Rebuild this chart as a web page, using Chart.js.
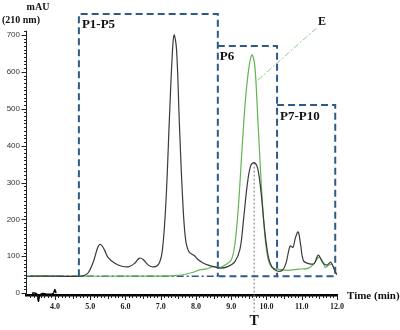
<!DOCTYPE html>
<html>
<head>
<meta charset="utf-8">
<script src="https://cdn.jsdelivr.net/npm/chart.js@4.4.0/dist/chart.umd.min.js"></script>
<style>
  body{margin:0;background:#fff;}
  #wrap{width:400px;height:330px;}
</style>
</head>
<body>
<div id="wrap"><canvas id="c" width="400" height="330"></canvas></div>
<script>
// chromatogram values (time in min, signal in mAU)
const blackTime = [3.3,4.0,4.8,4.95,5.1,5.22,5.3,5.4,5.5,5.7,5.9,6.1,6.25,6.4,6.5,6.65,6.8,6.95,7.05,7.15,7.25,7.33,7.38,7.45,7.53,7.62,7.7,7.8,7.95,8.05,8.2,8.35,8.5,8.7,8.9,9.1,9.25,9.35,9.45,9.55,9.65,9.75,9.85,9.95,10.05,10.15,10.3,10.45,10.55,10.67,10.75,10.82,10.9,10.97,11.05,11.2,11.35,11.47,11.6,11.72,11.82,11.9,11.96,12.0];
const blackAbs  = [46,46,47,56,88,125,132,118,98,81,73,72,80,95,91,76,71,80,118,250,480,650,700,660,460,260,150,112,102,92,82,76,72,68,72,85,120,200,290,345,354,338,270,170,100,72,60,62,80,128,124,150,166,130,88,80,80,103,82,76,84,70,56,50];
const greenTime = [3.3,7.0,7.5,7.9,8.1,8.3,8.5,8.7,8.85,9.0,9.1,9.2,9.3,9.4,9.5,9.59,9.67,9.75,9.85,9.95,10.05,10.15,10.3,10.6,10.9,11.2,11.35,11.47,11.57,11.67,11.75,11.85,11.95,12.0];
const greenAbs  = [46,46,48,56,63,66,72,70,78,90,130,230,380,520,610,646,615,480,300,160,90,70,65,62,65,68,80,97,90,70,75,78,58,50];
// injection blip on the time axis
const injTime = [3.35,3.45,3.5,3.53,3.57,3.65,3.8,3.95,4.0,4.03];
const injAbs  = [0,0,-4,-22,-6,-1,-3,-1,10,0];

// dashed fraction boxes
const boxLabels = ["P1-P5","P6","P7-P10"];
const boxFrom   = [4.68, 8.62, 10.3];
const boxTo     = [8.62, 10.3, 11.95];
const boxTop    = [757, 670, 510];
const baseLevel = 46;

// axis ticks
const xTicks = [4,5,6,7,8,9,10,11,12];
const yTicks = [0,100,200,300,400,500,600,700];

// annotation lines
const eLineX = [9.76, 11.46];
const eLineY = [578, 722];
const tLineX = [9.65, 9.65];
const tLineY = [354, -52];

const boxColor = "#2d5a88";

function pts(xs, ys){ return xs.map((x,i)=>({x:x, y:ys[i]})); }

const datasets = [];
datasets.push({data: pts(blackTime, blackAbs), borderColor:"#3a3a3a", borderWidth:1.2, pointRadius:0, tension:0.35});
datasets.push({data: pts(greenTime, greenAbs), borderColor:"#62b552", borderWidth:1.2, pointRadius:0, tension:0.35});
datasets.push({data: pts(injTime, injAbs), borderColor:"#000", borderWidth:1.5, pointRadius:0, tension:0.3, clip:false});
// baseline under first box (dash-dot)
datasets.push({data: pts([3.2, boxTo[0]],[baseLevel, baseLevel]), borderColor:boxColor, borderWidth:1.6, borderDash:[7,3,2,3], pointRadius:0});
// first box: open at the bottom
datasets.push({data: pts([boxFrom[0],boxFrom[0],boxTo[0],boxTo[0]],[baseLevel,boxTop[0],boxTop[0],baseLevel]),
    borderColor:boxColor, borderWidth:2, borderDash:[7,4], pointRadius:0});
// next boxes share their left side with the previous box
for (let i=1;i<boxLabels.length;i++){
    datasets.push({
        data: pts([boxFrom[i],boxTo[i],boxTo[i],boxFrom[i]],[boxTop[i],boxTop[i],baseLevel,baseLevel]),
        borderColor:boxColor, borderWidth:2, borderDash:[7,4], pointRadius:0
    });
}
datasets.push({data: pts(eLineX, eLineY), borderColor:"#8ccf8c", borderWidth:1, borderDash:[6,2,2,2], pointRadius:0});
datasets.push({data: pts(tLineX, tLineY), borderColor:"#777", borderWidth:1, borderDash:[2,2], pointRadius:0, clip:false});

const extras = {
    id:"extras",
    afterDraw(chart){
        const ctx = chart.ctx;
        const xs = chart.scales.x, ys = chart.scales.y;
        ctx.save();
        ctx.strokeStyle = "#222";
        ctx.lineWidth = 1;
        // x minor ticks
        const xb = chart.chartArea.bottom;
        for (let t=33; t<=120; t++){
            const px = Math.round(xs.getPixelForValue(t/10))+0.5;
            const len = (t%10===0) ? 5 : (t%5===0 ? 4 : 3);
            ctx.beginPath(); ctx.moveTo(px, xb); ctx.lineTo(px, xb+len); ctx.stroke();
        }
        // y axis line (stops just above 700) and its ticks
        const yl = chart.chartArea.left + 0.5;
        ctx.beginPath(); ctx.moveTo(yl, ys.getPixelForValue(-5)); ctx.lineTo(yl, ys.getPixelForValue(712)); ctx.stroke();
        for (let v=0; v<=710; v+=10){
            const py = Math.round(ys.getPixelForValue(v))+0.5;
            const len = (v%100===0) ? 5 : 2.5;
            ctx.beginPath(); ctx.moveTo(yl-len, py); ctx.lineTo(yl, py); ctx.stroke();
        }
        // texts
        ctx.fillStyle = "#111";
        ctx.textAlign = "center"; ctx.textBaseline = "middle";
        ctx.font = "bold 10px 'Liberation Serif'";
        ctx.fillText("mAU", 38, 7);
        ctx.font = "bold 10px 'Liberation Serif'";
        ctx.fillText("(210 nm)", 21, 20);
        ctx.font = "bold 11px 'Liberation Serif'";
        ctx.textAlign = "left";
        ctx.fillText("Time (min)", 347, 296);
        ctx.font = "bold 13px 'Liberation Serif'";
        ctx.fillText(boxLabels[0], xs.getPixelForValue(boxFrom[0])+3, ys.getPixelForValue(boxTop[0])+11);
        ctx.fillText(boxLabels[1], xs.getPixelForValue(boxFrom[1])+2, ys.getPixelForValue(boxTop[1])+11);
        ctx.fillText(boxLabels[2], xs.getPixelForValue(boxTo[1])+3, ys.getPixelForValue(boxTop[2])+12);
        ctx.textAlign = "center";
        ctx.font = "bold 12px 'Liberation Serif'";
        ctx.fillText("E", xs.getPixelForValue(eLineX[1])+4, ys.getPixelForValue(eLineY[1])-5);
        ctx.font = "bold 14px 'Liberation Serif'";
        ctx.fillText("T", xs.getPixelForValue(tLineX[0]), 321);
        ctx.restore();
    }
};

new Chart(document.getElementById("c"), {
    type:"line",
    data:{datasets:datasets},
    options:{
        responsive:false,
        animation:false,
        layout:{padding:{top:11,right:63,left:0,bottom:0}},
        plugins:{legend:{display:false}, tooltip:{enabled:false}},
        scales:{
            x:{
                type:"linear", min:3.18, max:12.0,
                afterBuildTicks(s){ s.ticks = xTicks.map(v=>({value:v})); },
                afterFit(s){ s.height = 35; },
                grid:{display:false, drawTicks:false},
                border:{display:true, color:"#000", width:2.5},
                ticks:{padding:7, color:"#222", font:{family:"Liberation Serif", size:8, weight:"bold"}, callback:v=>v.toFixed(1), maxRotation:0}
            },
            y:{
                min:-5, max:765,
                afterBuildTicks(s){ s.ticks = yTicks.map(v=>({value:v})); },
                afterFit(s){ s.width = 26; },
                grid:{display:false, drawTicks:false},
                border:{display:false},
                ticks:{padding:6, color:"#333", font:{family:"Liberation Sans", size:8}}
            }
        }
    },
    plugins:[extras]
});
</script>
</body>
</html>
